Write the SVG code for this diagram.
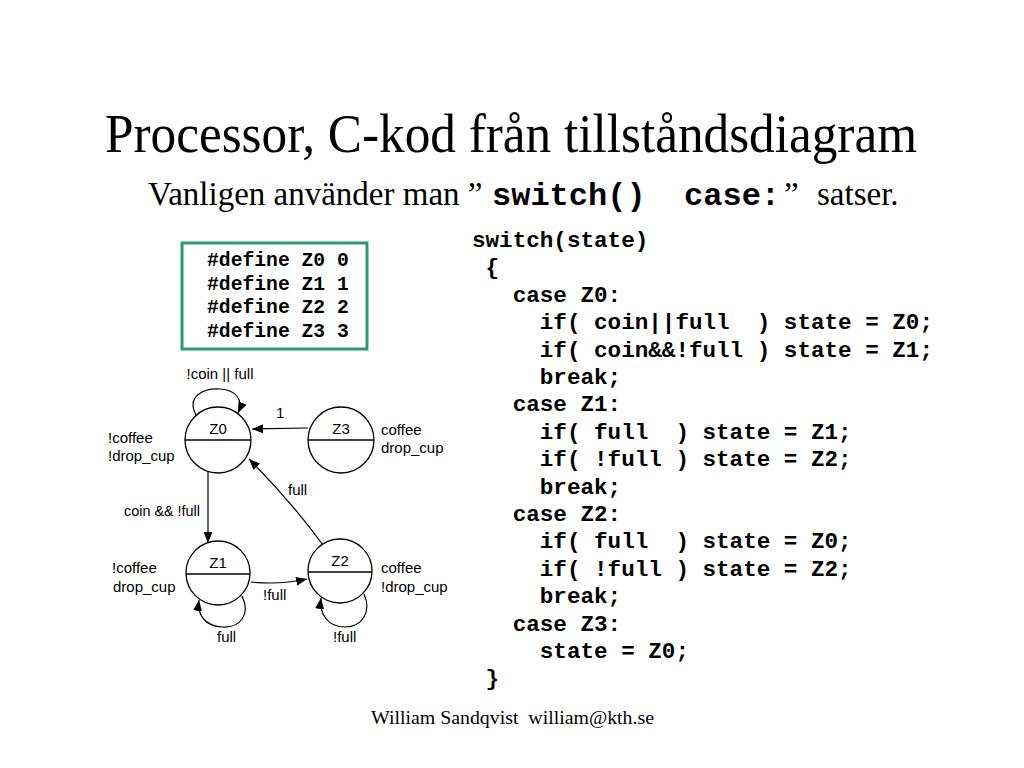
<svg xmlns="http://www.w3.org/2000/svg" width="1024" height="768" viewBox="0 0 1024 768">
<style>
.serif{font-family:"Liberation Serif","Times New Roman",serif;fill:#000}
.mono{font-family:"Liberation Mono","Courier New",monospace;font-weight:bold;fill:#000;white-space:pre}
.lbl{font-family:"Liberation Sans",Arial,sans-serif;font-size:15px;fill:#000}
.st{fill:#fff;stroke:#000;stroke-width:1.3}
.dv{stroke:#000;stroke-width:1.3}
.cn{fill:none;stroke:#000;stroke-width:1.2}
</style>
<defs>
<marker id="ah" markerUnits="userSpaceOnUse" markerWidth="12" markerHeight="10" refX="11" refY="4.5" orient="auto">
<path d="M0,0 L11,4.5 L0,9 z" fill="#000"/>
</marker>
</defs>
<rect width="1024" height="768" fill="#fff"/>
<text class="serif" x="105" y="152" font-size="54" textLength="812" lengthAdjust="spacingAndGlyphs">Processor, C-kod från tillståndsdiagram</text>
<text class="serif" x="148" y="205" font-size="33">Vanligen använder man ”</text>
<text class="mono" x="492" y="205" font-size="32" xml:space="preserve">switch()  case:</text>
<text class="serif" x="784" y="205" font-size="33">”</text>
<text class="serif" x="817" y="205" font-size="33">satser.</text>

<g id="defines">
<rect x="182" y="243" width="185" height="106" fill="#fff" stroke="#2a9a70" stroke-width="3"/>
<text class="mono" font-size="19.7" x="207" y="266">#define Z0 0</text>
<text class="mono" font-size="19.7" x="207" y="290">#define Z1 1</text>
<text class="mono" font-size="19.7" x="207" y="313">#define Z2 2</text>
<text class="mono" font-size="19.7" x="207" y="337">#define Z3 3</text>
</g>

<g id="code" class="mono" font-size="22.6">
<text xml:space="preserve" x="472" y="247">switch(state)</text>
<text xml:space="preserve" x="472" y="274.4"> {</text>
<text xml:space="preserve" x="472" y="301.8">   case Z0:</text>
<text xml:space="preserve" x="472" y="329.2">     if( coin||full  ) state = Z0;</text>
<text xml:space="preserve" x="472" y="356.6">     if( coin&amp;&amp;!full ) state = Z1;</text>
<text xml:space="preserve" x="472" y="384">     break;</text>
<text xml:space="preserve" x="472" y="411.4">   case Z1:</text>
<text xml:space="preserve" x="472" y="438.8">     if( full  ) state = Z1;</text>
<text xml:space="preserve" x="472" y="466.2">     if( !full ) state = Z2;</text>
<text xml:space="preserve" x="472" y="493.6">     break;</text>
<text xml:space="preserve" x="472" y="521">   case Z2:</text>
<text xml:space="preserve" x="472" y="548.4">     if( full  ) state = Z0;</text>
<text xml:space="preserve" x="472" y="575.8">     if( !full ) state = Z2;</text>
<text xml:space="preserve" x="472" y="603.2">     break;</text>
<text xml:space="preserve" x="472" y="630.6">   case Z3:</text>
<text xml:space="preserve" x="472" y="658">     state = Z0;</text>
<text xml:space="preserve" x="472" y="685.4"> }</text>
</g>

<g id="connectors">
<path class="cn" d="M196,415 C186,396 204,388 220,389 C236,390 244,400 238,413" marker-end="url(#ah)"/>
<path class="cn" d="M308,428 L252,429" marker-end="url(#ah)"/>
<path class="cn" d="M208,472 L208,543" marker-end="url(#ah)"/>
<path class="cn" d="M323,545 Q290,500 249,459" marker-end="url(#ah)"/>
<path class="cn" d="M251,582 Q280,585 307,579" marker-end="url(#ah)"/>
<path class="cn" d="M242,596 C251,615 240,628 222,627 C205,626 197,615 199,600" marker-end="url(#ah)"/>
<path class="cn" d="M364,594 C372,612 362,627 345,627 C328,627 319,614 321,598" marker-end="url(#ah)"/>
<text class="lbl" x="220" y="379" text-anchor="middle">!coin || full</text>
<text class="lbl" x="276" y="418">1</text>
<text class="lbl" x="288" y="495">full</text>
<text class="lbl" x="124" y="516" textLength="76" lengthAdjust="spacingAndGlyphs">coin &amp;&amp; !full</text>
<text class="lbl" x="263" y="600">!full</text>
<text class="lbl" x="217" y="642">full</text>
<text class="lbl" x="333" y="642">!full</text>
</g>

<g id="Z0">
<circle class="st" cx="218" cy="440" r="33"/>
<line class="dv" x1="185" y1="440" x2="251" y2="440"/>
<text class="lbl" x="218" y="434" text-anchor="middle">Z0</text>
<text class="lbl" x="108" y="443">!coffee</text>
<text class="lbl" x="108" y="461">!drop_cup</text>
</g>
<g id="Z3">
<circle class="st" cx="341" cy="440" r="33"/>
<line class="dv" x1="308" y1="440" x2="374" y2="440"/>
<text class="lbl" x="341" y="434" text-anchor="middle">Z3</text>
<text class="lbl" x="381" y="435">coffee</text>
<text class="lbl" x="381" y="453">drop_cup</text>
</g>
<g id="Z1">
<circle class="st" cx="218" cy="573" r="32"/>
<line class="dv" x1="186" y1="574" x2="250" y2="574"/>
<text class="lbl" x="218" y="568" text-anchor="middle">Z1</text>
<text class="lbl" x="112" y="573">!coffee</text>
<text class="lbl" x="113" y="592">drop_cup</text>
</g>
<g id="Z2">
<circle class="st" cx="340" cy="571" r="32"/>
<line class="dv" x1="308" y1="572" x2="372" y2="572"/>
<text class="lbl" x="340" y="566" text-anchor="middle">Z2</text>
<text class="lbl" x="381" y="573">coffee</text>
<text class="lbl" x="381" y="592">!drop_cup</text>
</g>

<text class="serif" x="371" y="724" font-size="18" textLength="283" lengthAdjust="spacingAndGlyphs" xml:space="preserve">William Sandqvist  william@kth.se</text>
</svg>
